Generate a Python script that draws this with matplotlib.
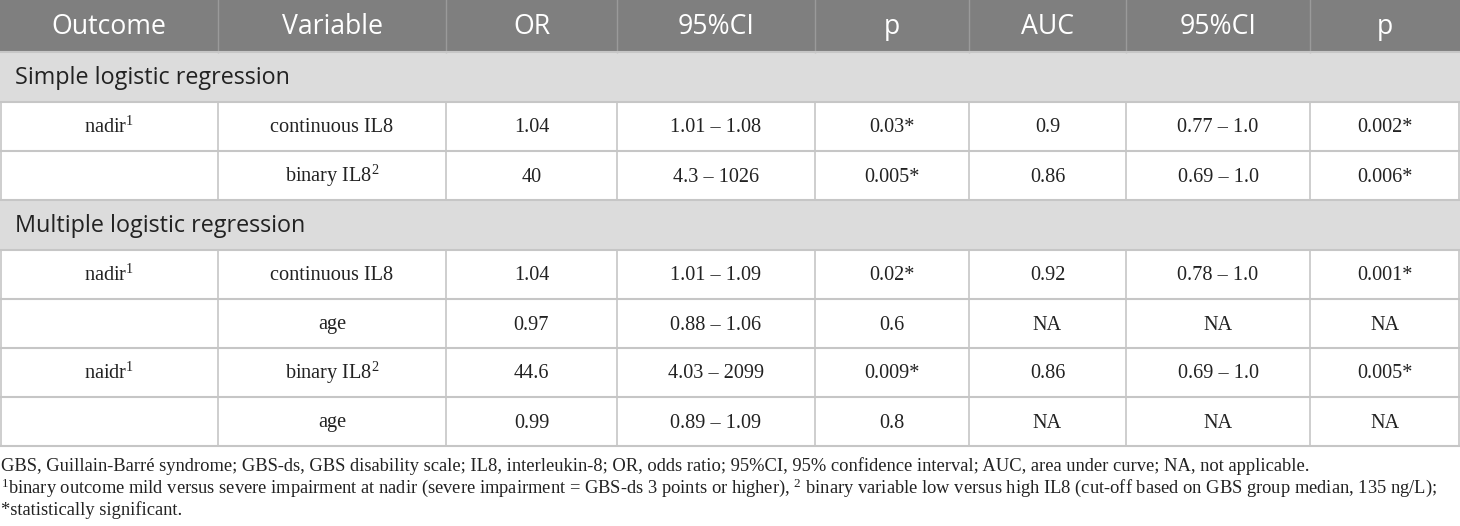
import matplotlib
matplotlib.use("Agg")
import matplotlib.pyplot as plt
from matplotlib.patches import Rectangle

# ---------------- data ----------------
columns = ["Outcome", "Variable", "OR", "95%CI", "p", "AUC", "95%CI", "p"]
sections = ["Simple logistic regression", "Multiple logistic regression"]

simple_outcome = ["nadir¹", ""]
simple_variable = ["continuous IL8", "binary IL8²"]
simple_or = ["1.04", "40"]
simple_or_ci = ["1.01 – 1.08", "4.3 – 1026"]
simple_or_p = ["0.03*", "0.005*"]
simple_auc = ["0.9", "0.86"]
simple_auc_ci = ["0.77 – 1.0", "0.69 – 1.0"]
simple_auc_p = ["0.002*", "0.006*"]

multiple_outcome = ["nadir¹", "", "naidr¹", ""]
multiple_variable = ["continuous IL8", "age", "binary IL8²", "age"]
multiple_or = ["1.04", "0.97", "44.6", "0.99"]
multiple_or_ci = ["1.01 – 1.09", "0.88 – 1.06", "4.03 – 2099", "0.89 – 1.09"]
multiple_or_p = ["0.02*", "0.6", "0.009*", "0.8"]
multiple_auc = ["0.92", "NA", "0.86", "NA"]
multiple_auc_ci = ["0.78 – 1.0", "NA", "0.69 – 1.0", "NA"]
multiple_auc_p = ["0.001*", "NA", "0.005*", "NA"]

footnotes = [
    "GBS, Guillain-Barré syndrome; GBS-ds, GBS disability scale; IL8, interleukin-8; OR, odds ratio; "
    "95%CI, 95% confidence interval; AUC, area under curve; NA, not applicable.",
    "¹binary outcome mild versus severe impairment at nadir (severe impairment = GBS-ds 3 points or higher), "
    "² binary variable low versus high IL8 (cut-off based on GBS group median, 135 ng/L);",
    "*statistically significant.",
]

# ---------------- layout ----------------
W, H = 1460, 526
col_edges = [0, 218, 446, 617, 815, 969, 1126, 1310, 1460]
header_h = 52
section_h = 50
row_h = 49

HEADER_BG = "#7f7f7f"
SECTION_BG = "#dcdcdc"
LINE = "#c6c6c6"
TEXT = "#222222"

plt.rcParams["mathtext.fontset"] = "custom"
plt.rcParams["mathtext.rm"] = "Liberation Serif"
plt.rcParams["mathtext.it"] = "Liberation Serif:italic"
plt.rcParams["mathtext.bf"] = "Liberation Serif:bold"


def sup(s):
    return s.replace("¹", r"$^{1}$").replace("²", r"$^{2}$")


fig = plt.figure(figsize=(W / 100, H / 100), dpi=100)
ax = fig.add_axes([0, 0, 1, 1])
ax.set_xlim(0, W)
ax.set_ylim(H, 0)
ax.axis("off")

sans = ["Open Sans", "DejaVu Sans"]
serif = ["Liberation Serif", "DejaVu Serif"]

# header
ax.add_patch(Rectangle((0, 0), W, header_h, facecolor=HEADER_BG, edgecolor="none"))
for i, name in enumerate(columns):
    cx = (col_edges[i] + col_edges[i + 1]) / 2
    ax.text(cx, header_h / 2 + 1, name, ha="center", va="center", color="white",
            fontsize=19.2, family=sans)
    if 0 < i:
        ax.plot([col_edges[i]] * 2, [0, header_h], color="#9a9a9a", lw=1)

blocks = [
    (sections[0], [simple_outcome, simple_variable, simple_or, simple_or_ci, simple_or_p,
                   simple_auc, simple_auc_ci, simple_auc_p]),
    (sections[1], [multiple_outcome, multiple_variable, multiple_or, multiple_or_ci, multiple_or_p,
                   multiple_auc, multiple_auc_ci, multiple_auc_p]),
]

y = header_h
hlines = [y]
for title, cols in blocks:
    ax.add_patch(Rectangle((0, y), W, section_h, facecolor=SECTION_BG, edgecolor="none"))
    ax.text(15, y + section_h / 2 + 1, title, ha="left", va="center", color=TEXT,
            fontsize=16.8, family=sans)
    y += section_h
    hlines.append(y)
    nrows = len(cols[0])
    for r in range(nrows):
        for c in range(len(columns)):
            cx = (col_edges[c] + col_edges[c + 1]) / 2
            ax.text(cx, y + row_h / 2 + 6, sup(cols[c][r]), ha="center", va="baseline",
                    color=TEXT, fontsize=14.6, family=serif)
        for e in col_edges[1:-1]:
            ax.plot([e, e], [y, y + row_h], color=LINE, lw=1.2)
        ax.plot([0.8, 0.8], [y, y + row_h], color=LINE, lw=1.2)
        ax.plot([W - 0.8, W - 0.8], [y, y + row_h], color=LINE, lw=1.2)
        y += row_h
        hlines.append(y)

for hy in hlines:
    ax.plot([0, W], [hy, hy], color=LINE, lw=1.5)

# footnotes (baselines)
fy = [471, 493, 515]
for t, yy in zip(footnotes, fy):
    ax.text(1, yy, sup(t), ha="left", va="baseline", color=TEXT, fontsize=13.35, family=serif)

fig.savefig("out.png", dpi=100)
